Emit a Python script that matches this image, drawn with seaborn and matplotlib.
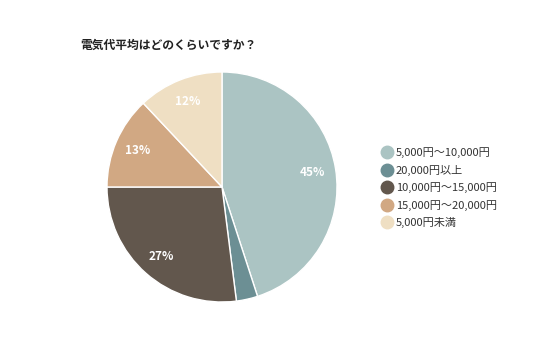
import matplotlib
matplotlib.use("Agg")
import matplotlib.pyplot as plt
from matplotlib.lines import Line2D
import seaborn as sns

title = "電気代平均はどのくらいですか？"
categories = ["5,000円〜10,000円", "20,000円以上", "10,000円〜15,000円", "15,000円〜20,000円", "5,000円未満"]
values = [45, 3, 27, 13, 12]
colors = ["#abc4c3", "#6c8f94", "#62574d", "#d1a883", "#efdfc3"]

sns.set_theme(style="white")
plt.rcParams['font.family'] = ['Noto Sans CJK JP', 'DejaVu Sans']

W, H = 536, 357
fig = plt.figure(figsize=(W / 100, H / 100), dpi=100)
fig.patch.set_facecolor("white")

cx, cy, r = 222, 187, 115
ax = fig.add_axes([(cx - r) / W, (H - cy - r) / H, 2 * r / W, 2 * r / H])

def fmt(p):
    return f"{p:.0f}%" if p >= 5 else ""

wedges, texts, autotexts = ax.pie(
    values, colors=colors, startangle=90, counterclock=False,
    autopct=fmt, pctdistance=0.8,
    wedgeprops=dict(edgecolor="white", linewidth=1),
    textprops=dict(color="white", fontsize=8.5, fontweight="bold"))
ax.set_xlim(-1, 1)
ax.set_ylim(-1, 1)
ax.set_aspect("equal")

fig.text(80 / W, 1 - 45 / H, title, fontsize=8.5, fontweight="bold",
         color="#222222", va="center", ha="left")

handles = [Line2D([0], [0], marker="o", linestyle="", markersize=9,
                  markerfacecolor=c, markeredgecolor=c) for c in colors]
fig.legend(handles, categories, loc="upper left",
           bbox_to_anchor=(371 / W, 1 - 137 / H), frameon=False,
           fontsize=8, handletextpad=0.35, labelspacing=0.6,
           handlelength=1.0, labelcolor="#333333")

fig.savefig("out.png", dpi=100, facecolor="white")
